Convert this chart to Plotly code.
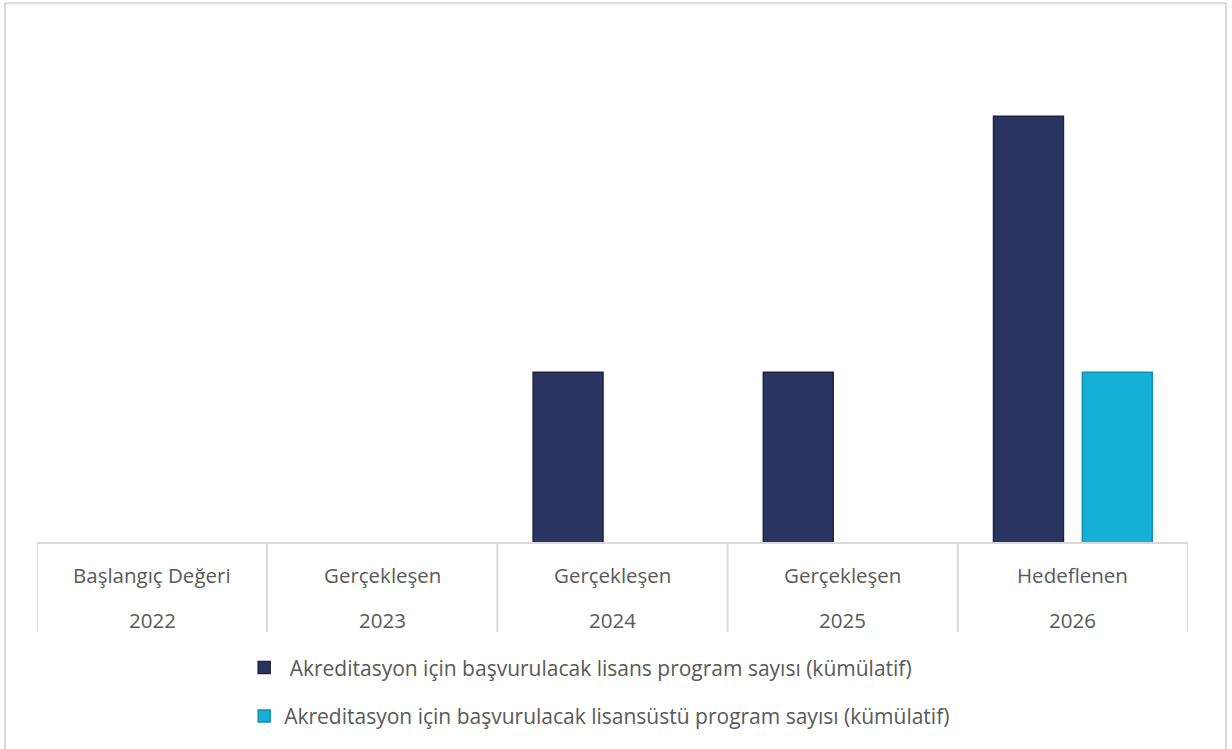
import plotly.graph_objects as go

categories = ["Başlangıç Değeri", "Gerçekleşen", "Gerçekleşen", "Gerçekleşen", "Hedeflenen"]
years = ["2022", "2023", "2024", "2025", "2026"]
lisans = [None, None, 2, 2, 5]
lisansustu = [None, None, None, None, 2]
name_lisans = " Akreditasyon için başvurulacak lisans program sayısı (kümülatif)"
name_lisansustu = "Akreditasyon için başvurulacak lisansüstü program sayısı (kümülatif)"

FONT = "Open Sans"
GREY = "#595959"
LINE = "#d9d9d9"
LABEL_SIZE = 20.5
LEGEND_SIZE = 21

xpos = list(range(len(years)))

fig = go.Figure()
fig.add_trace(go.Bar(
    x=xpos, y=lisans, name=name_lisans, legendgroup="a",
    marker=dict(color="#2a3461", line=dict(color="#1c2444", width=1.5)),
))
fig.add_trace(go.Bar(
    x=xpos, y=lisansustu, name=name_lisansustu, legendgroup="b",
    marker=dict(color="#16afd5", line=dict(color="#0e8fb0", width=1.5)),
))

shapes = []
# axis baseline
shapes.append(dict(type="line", xref="x", yref="paper", x0=-0.5, x1=len(years) - 0.5,
                   y0=0, y1=0, line=dict(color=LINE, width=2)))
# vertical dividers
for i in range(len(years) + 1):
    shapes.append(dict(type="line", xref="x", yref="paper", x0=i - 0.5, x1=i - 0.5,
                       y0=0, y1=-0.174, line=dict(color=LINE, width=2)))
# outer border
shapes.append(dict(type="rect", xref="paper", yref="paper", x0=-0.0278, x1=1.033,
                   y0=-0.5, y1=1.054, line=dict(color=LINE, width=2)))

annotations = []
for i, (c, yr) in enumerate(zip(categories, years)):
    annotations.append(dict(x=i, y=-0.0625, xref="x", yref="paper", text=c, showarrow=False,
                            font=dict(family=FONT, size=LABEL_SIZE, color=GREY), yanchor="middle"))
    annotations.append(dict(x=i, y=-0.150, xref="x", yref="paper", text=yr, showarrow=False,
                            font=dict(family=FONT, size=LABEL_SIZE, color=GREY), yanchor="middle"))

fig.update_layout(
    width=1232, height=749,
    margin=dict(l=37, r=44, t=31, b=206),
    paper_bgcolor="white", plot_bgcolor="white",
    barmode="group", bargap=0.228, bargroupgap=0.213,
    xaxis=dict(range=[-0.5, len(years) - 0.5], showticklabels=False, showgrid=False,
               zeroline=False, showline=False, fixedrange=True),
    yaxis=dict(range=[0, 6], visible=False, showgrid=False, zeroline=False),
    shapes=shapes, annotations=annotations,
    showlegend=True,
    legend=dict(x=0.180, y=-0.204, xanchor="left", yanchor="top", orientation="v",
                traceorder="grouped", tracegroupgap=18,
                font=dict(family=FONT, size=LEGEND_SIZE, color=GREY), bgcolor="rgba(0,0,0,0)"),
)

fig.write_html("out.html", config={"displayModeBar": False},
               post_script="document.body.style.margin='0px';document.body.style.overflow='hidden';")
